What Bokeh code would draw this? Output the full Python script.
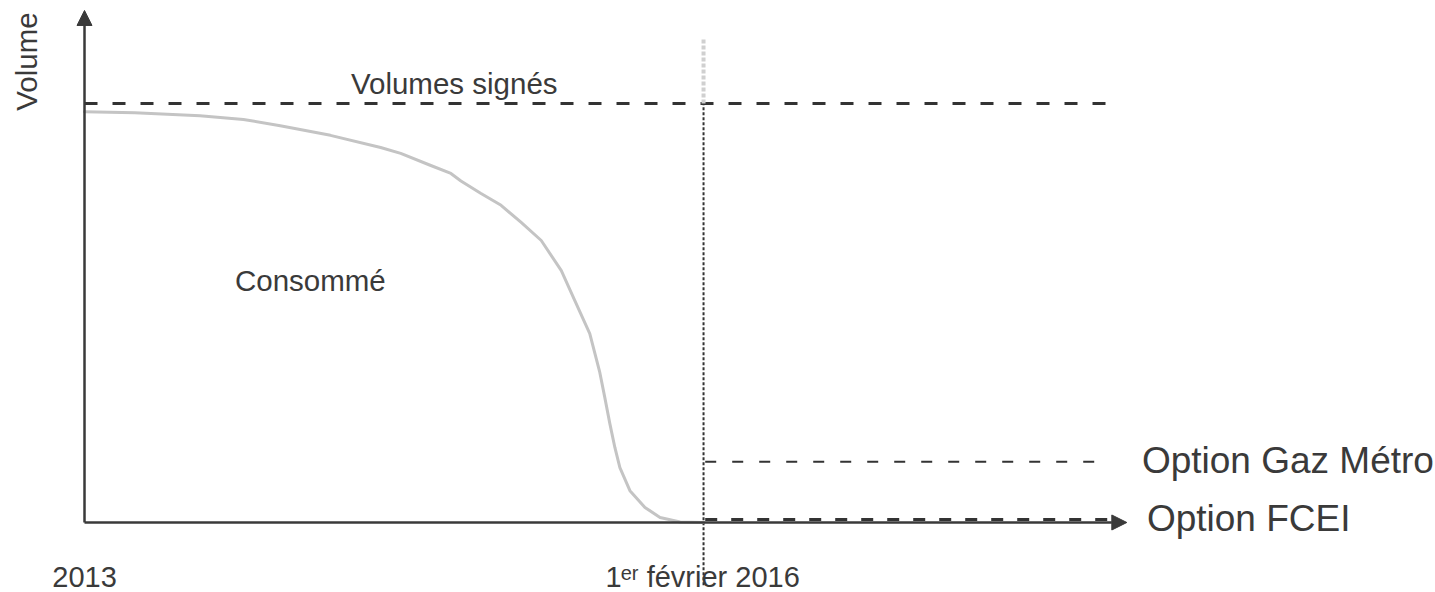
import math
from bokeh.plotting import figure
from bokeh.models import Range1d, Arrow, NormalHead
from bokeh.core.properties import value
from bokeh.embed import file_html
from bokeh.resources import INLINE

# x: months since January 2013 ; y: volume (signed volume = 100)
curve_months = [0, 3, 6.9, 9.5, 11.7, 14.7, 17.7, 18.9, 20.7, 21.9, 22.5, 23.7, 24.9, 26.1,
                27.3, 28.5, 29.3, 30.2, 30.8, 31.1, 31.4, 31.7, 32.0, 32.6, 33.5,
                34.4, 35.6, 37.0]
curve_volume = [98, 97.8, 97.1, 96.2, 94.7, 92.4, 89.5, 88.1, 85.2, 83.3, 81.5, 78.5, 75.7, 71.6,
                67.3, 60.1, 53.0, 45.1, 35.8, 29.8, 23.6, 17.9, 13.1, 7.6, 3.6,
                1.2, 0.1, 0.0]

signed_volume = 100
cutoff_month = 37            # 1er février 2016
option_gaz_metro = 14.5
option_fcei = 0.7
signed_end = 61.3
gaz_end = 61.0
fcei_end = 61.6
x_axis_end = 62.3
y_axis_top = 122.2

start_label = "2013"
cutoff_label = ["1", "er", "février 2016"]

FONT = value("Liberation Sans")
INK = "#3a3a3a"

p = figure(width=1435, height=592, x_range=Range1d(-5.021, 80.75),
           y_range=Range1d(-16.71, 124.58), output_backend="svg",
           toolbar_location=None, min_border=0)
p.axis.visible = False
p.grid.visible = False
p.outline_line_color = None
p.background_fill_color = "white"

# axes with arrows
p.add_layout(Arrow(x_start=0, y_start=0, x_end=x_axis_end, y_end=0,
                   line_color=INK, line_width=2.5,
                   end=NormalHead(size=15, fill_color=INK, line_color=INK)))
p.add_layout(Arrow(x_start=0, y_start=0, x_end=0, y_end=y_axis_top,
                   line_color=INK, line_width=2.5,
                   end=NormalHead(size=15, fill_color=INK, line_color=INK)))

# signed volumes
p.line([0, signed_end], [signed_volume, signed_volume], line_color="#333333",
       line_width=3, line_dash="13 15")
# options
p.line([cutoff_month + 0.1, gaz_end], [option_gaz_metro, option_gaz_metro],
       line_color="#333333", line_width=2.2, line_dash="11 16")
p.line([cutoff_month + 0.1, fcei_end], [option_fcei, option_fcei],
       line_color="#333333", line_width=3, line_dash="12 14")

# cut-off vertical
p.line([cutoff_month, cutoff_month], [-15, signed_volume], line_color="#333333",
       line_width=2, line_dash="3 2")
p.line([cutoff_month, cutoff_month], [signed_volume, 115.5], line_color="#d0d0d0",
       line_width=4, line_dash="4 2")

# consumption curve
p.line(curve_months, curve_volume, line_color="#c4c4c4", line_width=3,
       line_join="round", line_cap="round")

# labels
def txt(x, y, t, size, align="left", angle=0.0):
    p.text(x=[x], y=[y], text=[t], text_font=FONT, text_font_size=f"{size}px",
           text_color=INK, text_align=align, text_baseline="alphabetic", angle=angle)

txt(22.1, 104.7, "Volumes signés", 29.5, "center")
txt(13.5, 57.7, "Consommé", 29.5, "center")
txt(-3.45, 110.0, "Volume", 29.5, "center", math.pi / 2)
txt(0, -13.0, start_label, 29, "center")
txt(31.14, -13.0, cutoff_label[0], 29)
txt(32.05, -12.1, cutoff_label[1], 20)
txt(33.6, -13.0, cutoff_label[2], 29)
txt(63.2, 14.7, "Option Gaz Métro", 37)
txt(63.5, 0.84, "Option FCEI", 37)

open("out.html", "w").write(file_html(p, INLINE))
